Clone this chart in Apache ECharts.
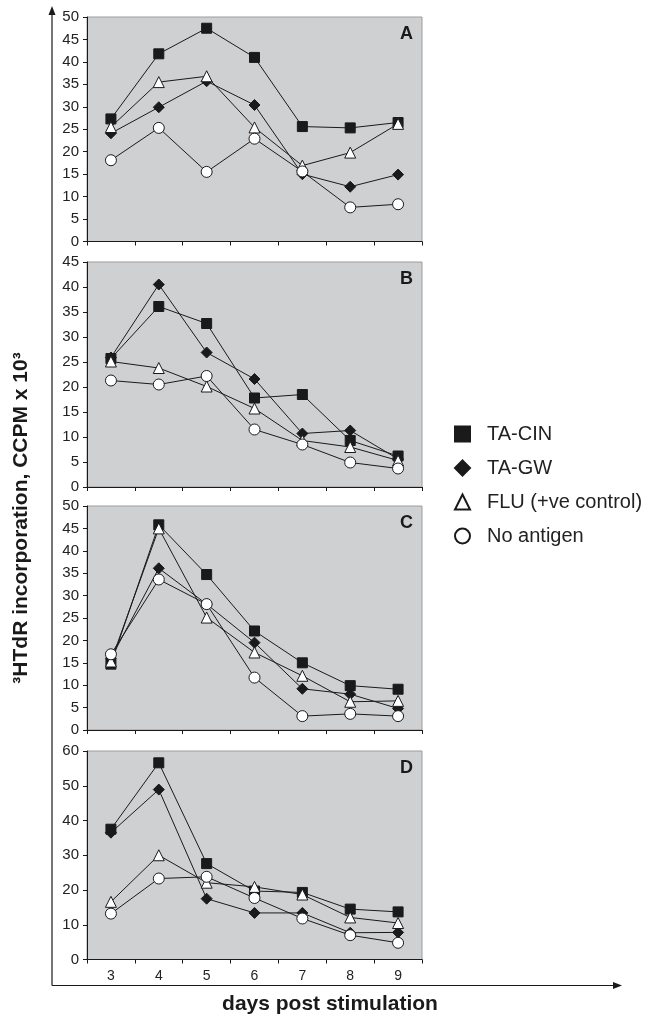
<!DOCTYPE html>
<html>
<head>
<meta charset="utf-8">
<script src="https://cdn.jsdelivr.net/npm/echarts@6/dist/echarts.min.js"></script>
<style>html,body{margin:0;padding:0;background:#fff;}#c{width:663px;height:1015px;}</style>
</head>
<body>
<div id="c"></div>
<script>
const days = ['3', '4', '5', '6', '7', '8', '9'];
const seriesNames = ['TA-CIN', 'TA-GW', 'FLU (+ve control)', 'No antigen'];
const panelLetters = ['A', 'B', 'C', 'D'];
const yMaxes = [50, 45, 50, 60];
const yIntervals = [5, 5, 5, 10];

// Panel A
const aTaCin = [27.3, 41.8, 47.5, 41.0, 25.6, 25.3, 26.5];
const aTaGw  = [24.1, 29.9, 35.7, 30.4, 15.0, 12.2, 14.9];
const aFlu   = [25.5, 35.5, 36.8, 25.4, 16.9, 19.8, 26.2];
const aNoAg  = [18.1, 25.3, 15.5, 22.9, 15.6, 7.6, 8.3];
// Panel B
const bTaCin = [25.7, 36.1, 32.7, 17.8, 18.5, 9.3, 6.2];
const bTaGw  = [25.9, 40.5, 26.9, 21.6, 10.7, 11.3, 5.6];
const bFlu   = [25.1, 23.8, 20.1, 15.7, 9.3, 8.0, 5.3];
const bNoAg  = [21.3, 20.5, 22.2, 11.5, 8.5, 4.9, 3.7];
// Panel C
const cTaCin = [14.7, 45.8, 34.7, 22.1, 15.0, 9.9, 9.1];
const cTaGw  = [16.0, 36.1, 28.1, 19.5, 9.2, 8.0, 4.8];
const cFlu   = [15.3, 45.0, 25.1, 17.3, 12.1, 6.3, 6.5];
const cNoAg  = [16.9, 33.6, 28.1, 11.7, 3.1, 3.6, 3.1];
// Panel D
const dTaCin = [37.5, 56.6, 27.6, 19.7, 19.3, 14.5, 13.7];
const dTaGw  = [36.5, 48.9, 17.5, 13.4, 13.4, 7.7, 7.8];
const dFlu   = [16.6, 30.0, 22.1, 20.9, 18.7, 12.1, 10.5];
const dNoAg  = [13.2, 23.3, 23.8, 17.7, 11.8, 7.0, 4.8];

const panelData = [
  [aTaCin, aTaGw, aFlu, aNoAg],
  [bTaCin, bTaGw, bFlu, bNoAg],
  [cTaCin, cTaGw, cFlu, cNoAg],
  [dTaCin, dTaGw, dFlu, dNoAg]
];

const layout = [
  {top: 17, height: 224.5},
  {top: 262, height: 225},
  {top: 506, height: 224},
  {top: 751, height: 208.5}
];
const gridLeft = 87, gridWidth = 335;
const FONT = 'Liberation Sans, Arial, sans-serif';
const ink = '#1a1a1a';

const symbols = ['rect', 'diamond', 'triangle', 'circle'];
const symbolSizes = [10, 11, 11, 11];
const fills = [ink, ink, '#ffffff', '#ffffff'];

const grids = layout.map(l => ({
  left: gridLeft, width: gridWidth, top: l.top, height: l.height,
  show: true, backgroundColor: '#cfd0d2', borderColor: '#9c9c9c', borderWidth: 1
}));

const xAxes = layout.map((l, i) => ({
  type: 'category', gridIndex: i, data: days, boundaryGap: true,
  axisLine: {show: true, lineStyle: {color: ink, width: 1}},
  axisTick: {show: true, length: 4, lineStyle: {color: ink}},
  axisLabel: {show: i === 3, color: '#222', fontSize: 14, fontFamily: FONT, margin: 10},
  splitLine: {show: false}
}));

const yAxes = layout.map((l, i) => ({
  type: 'value', gridIndex: i, min: 0, max: yMaxes[i], interval: yIntervals[i],
  axisLine: {show: true, lineStyle: {color: ink, width: 1}},
  axisTick: {show: true, length: 4, lineStyle: {color: ink}},
  axisLabel: {color: '#222', fontSize: 15, fontFamily: FONT, margin: 8},
  splitLine: {show: false}
}));

const series = [];
panelData.forEach((arrs, p) => {
  arrs.forEach((vals, s) => {
    series.push({
      type: 'line', name: seriesNames[s], xAxisIndex: p, yAxisIndex: p,
      data: vals, symbol: symbols[s], symbolSize: symbolSizes[s],
      showAllSymbol: true,
      lineStyle: {color: ink, width: 1},
      itemStyle: {color: fills[s], borderColor: ink, borderWidth: 1},
      emphasis: {disabled: true},
      z: 2 + s
    });
  });
});

const graphics = [];
layout.forEach((l, i) => {
  graphics.push({
    type: 'text', right: 663 - 413, top: l.top + 8,
    style: {text: panelLetters[i], font: 'bold 18px ' + FONT, fill: ink}
  });
});
// outer axis frame with arrows
graphics.push({type: 'line', shape: {x1: 52, y1: 14, x2: 52, y2: 985.5}, style: {stroke: ink, lineWidth: 1.2}});
graphics.push({type: 'line', shape: {x1: 52, y1: 985.5, x2: 614, y2: 985.5}, style: {stroke: ink, lineWidth: 1.2}});
graphics.push({type: 'polygon', shape: {points: [[52, 6], [48.5, 15], [55.5, 15]]}, style: {fill: ink}});
graphics.push({type: 'polygon', shape: {points: [[622, 985.5], [613, 982], [613, 989]]}, style: {fill: ink}});
// axis titles
graphics.push({
  type: 'text', x: 21, y: 518, rotation: Math.PI / 2,
  style: {text: '³HTdR incorporation, CCPM x 10³', font: 'bold 21px ' + FONT, fill: ink, align: 'center', verticalAlign: 'middle'}
});
graphics.push({
  type: 'text', x: 330, y: 1004,
  style: {text: 'days post stimulation', font: 'bold 21px ' + FONT, fill: ink, align: 'center', verticalAlign: 'middle'}
});

const option = {
  animation: false,
  backgroundColor: '#ffffff',
  grid: grids,
  xAxis: xAxes,
  yAxis: yAxes,
  legend: {
    orient: 'vertical', left: 449, top: 419,
    itemWidth: 15, itemHeight: 15, itemGap: 14,
    textStyle: {fontSize: 20, color: '#222', fontFamily: FONT, padding: [0, 0, 0, 12]},
    data: seriesNames.map((n, i) => ({name: n, icon: symbols[i]})),
    selectedMode: false
  },
  graphic: graphics,
  series: series
};

const chart = echarts.init(document.getElementById('c'), null, {renderer: 'canvas'});
chart.setOption(option);
</script>
</body>
</html>
